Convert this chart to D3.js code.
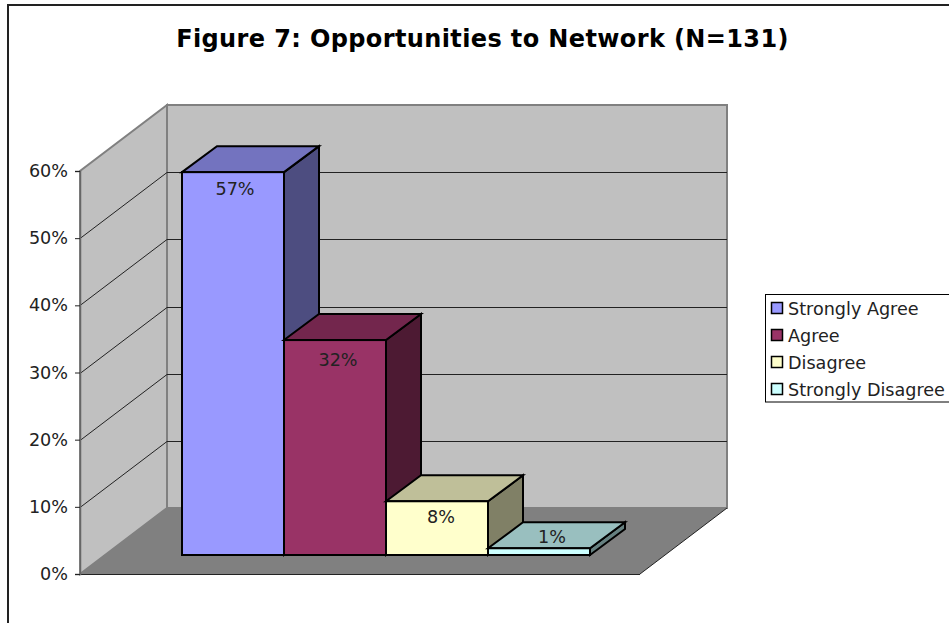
<!DOCTYPE html>
<html>
<head>
<meta charset="utf-8">
<title>Figure 7</title>
<script src="https://cdn.jsdelivr.net/npm/d3@7/dist/d3.min.js"></script>
<style>
html, body { margin: 0; padding: 0; background: #fff; }
svg { display: block; }
text { font-family: "DejaVu Sans", Verdana, sans-serif; }
</style>
</head>
<body>
<svg id="chart" width="949" height="623"></svg>
<script>
const chartTitle = "Figure 7: Opportunities to Network (N=131)";
const categories = ["Strongly Agree", "Agree", "Disagree", "Strongly Disagree"];
const values = [57, 32, 8, 1];
const tickValues = [0, 10, 20, 30, 40, 50, 60];
const frontColors = ["#9999ff", "#993366", "#ffffcc", "#ccffff"];
const topColors = ["#7373bf", "#73264d", "#bfbf99", "#99bfbf"];
const sideColors = ["#4d4d80", "#4d1a33", "#808066", "#668080"];

const svg = d3.select("#chart");
const textSize = 17.6;

// Outer frame of the chart area; it runs off the right and bottom of the page
svg.append("path")
  .attr("d", "M8,623 V5 H949")
  .attr("fill", "none").attr("stroke", "#222").attr("stroke-width", 2);

svg.append("text")
  .attr("x", 482.5).attr("y", 47)
  .attr("text-anchor", "middle")
  .attr("font-size", 24).attr("font-weight", "bold")
  .attr("letter-spacing", 0.38).attr("fill", "#000")
  .text(chartTitle);

// Projection of the 3D box: the left wall runs from (wallX, y) to (wallX + dx, y - dy)
const wallX = 80, backX = 167, backRight = 727, frontRight = 640;
const wallDx = backX - wallX, wallDy = 66;
const y = d3.scaleLinear().domain([0, 60]).range([574, 171]);
const floorFront = 555;
const barY = d3.scaleLinear().domain([0, 60]).range([floorFront, floorFront - (y(0) - y(60))]);
const x = d3.scaleBand().domain(categories).range([182, 590]);
const barDx = 35, barDy = 26;

const wallFill = "#c0c0c0", wallEdge = "#808080";

// Back wall
svg.append("rect")
  .attr("x", backX).attr("y", y(60) - wallDy)
  .attr("width", backRight - backX).attr("height", y(0) - y(60))
  .attr("fill", wallFill).attr("stroke", wallEdge).attr("stroke-width", 2);

// Left wall
svg.append("path")
  .attr("d", d3.line()([[wallX, y(0)], [wallX, y(60)], [backX, y(60) - wallDy], [backX, y(0) - wallDy]]) + "Z")
  .attr("fill", wallFill).attr("stroke", wallEdge).attr("stroke-width", 2);

// Floor
svg.append("path")
  .attr("d", d3.line()([[wallX, y(0)], [backX, y(0) - wallDy], [backRight, y(0) - wallDy], [frontRight, y(0)]]) + "Z")
  .attr("fill", "#808080");
svg.append("line")
  .attr("x1", wallX).attr("x2", frontRight).attr("y1", y(0) + 0.5).attr("y2", y(0) + 0.5)
  .attr("stroke", "#222").attr("stroke-width", 1);
svg.append("line")
  .attr("x1", frontRight).attr("x2", backRight).attr("y1", y(0)).attr("y2", y(0) - wallDy)
  .attr("stroke", "#222").attr("stroke-width", 1);

// Gridlines climb the left wall, then cross the back wall
const grid = svg.append("g").attr("fill", "none").attr("stroke", "#222").attr("stroke-width", 1);
tickValues.filter(d => d > 0 && d < 60).forEach(d => {
  const yy = Math.round(y(d)) + 0.5;
  grid.append("path").attr("d", `M${wallX},${yy} L${backX},${yy - wallDy} H${backRight}`);
});

// Value axis
const axis = d3.axisLeft(y).tickValues(tickValues).tickFormat(d => d + "%").tickSize(5).tickPadding(7);
const axisG = svg.append("g").attr("transform", `translate(${wallX},0)`).call(axis);
axisG.select(".domain").attr("stroke", "#666").attr("stroke-width", 1.5);
axisG.selectAll(".tick line").attr("stroke", "#222");
axisG.selectAll("text").attr("font-size", textSize).attr("fill", "#222")
  .attr("font-family", '"DejaVu Sans", Verdana, sans-serif');

// Bars: each one is painted over the side face of its left neighbour
const bars = svg.append("g").attr("stroke", "#000").attr("stroke-width", 2).attr("stroke-linejoin", "miter");
categories.forEach((c, i) => {
  const x0 = x(c), x1 = x0 + x.bandwidth(), yT = barY(values[i]), yB = barY(0);
  bars.append("path")
    .attr("d", d3.line()([[x1, yB], [x1 + barDx, yB - barDy], [x1 + barDx, yT - barDy], [x1, yT]]) + "Z")
    .attr("fill", sideColors[i]);
  bars.append("path")
    .attr("d", d3.line()([[x0, yT], [x0 + barDx, yT - barDy], [x1 + barDx, yT - barDy], [x1, yT]]) + "Z")
    .attr("fill", topColors[i]);
  bars.append("rect")
    .attr("x", x0).attr("y", yT).attr("width", x.bandwidth()).attr("height", yB - yT)
    .attr("fill", frontColors[i]);
});

// Value labels: baseline offset from each bar's top front edge, the thin last bar's label sits on its top face
const labelDy = [23, 26, 22, -5];
const labelDx = [2, 3, 4, 13];
svg.append("g").selectAll("text").data(categories).join("text")
  .attr("x", (d, i) => x(d) + x.bandwidth() / 2 + labelDx[i])
  .attr("y", (d, i) => barY(values[i]) + labelDy[i])
  .attr("text-anchor", "middle")
  .attr("font-size", textSize).attr("fill", "#222")
  .text((d, i) => values[i] + "%");

// Legend
const legend = svg.append("g");
legend.append("rect")
  .attr("x", 765.5).attr("y", 294.5).attr("width", 190).attr("height", 107.5)
  .attr("fill", "#fff").attr("stroke", "#000");
const rowY = d3.scalePoint().domain(categories).range([308, 389]);
categories.forEach((c, i) => {
  legend.append("rect")
    .attr("x", 771.5).attr("y", rowY(c) - 5.5).attr("width", 11).attr("height", 11)
    .attr("fill", frontColors[i]).attr("stroke", "#000").attr("stroke-width", 1.5);
  legend.append("text")
    .attr("x", 788).attr("y", rowY(c) + 7)
    .attr("font-size", textSize).attr("fill", "#222")
    .text(c);
});
</script>
</body>
</html>
